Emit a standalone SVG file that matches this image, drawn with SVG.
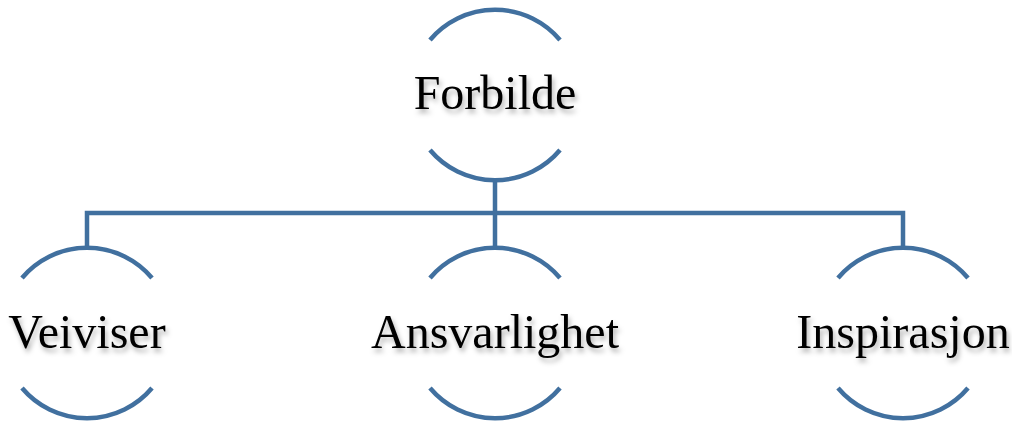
<svg xmlns="http://www.w3.org/2000/svg" width="1012" height="421" viewBox="0 0 1012 421">
<style>
.arc{fill:none;stroke:#41709f;stroke-width:4.5;}
.con{fill:none;stroke:#41709f;stroke-width:4.5;}
.lbl{font-family:"Liberation Serif","Times New Roman",serif;font-size:48px;fill:#000;text-anchor:middle;filter:url(#sh);}
</style>
<defs>
<filter id="sh" x="-10%" y="-30%" width="120%" height="170%">
<feDropShadow dx="2" dy="4" stdDeviation="2.5" flood-color="#000" flood-opacity="0.3"/>
</filter>
</defs>
<g id="connectors">
<path class="con" d="M495 180 V213 M87 248 V213 H903 V248 M495 213 V248"/>
</g>
<g id="node-forbilde">
<path class="arc" d="M430 40 A85 85 0 0 1 560 40"/>
<path class="arc" d="M430 150 A85 85 0 0 0 560 150"/>
<text class="lbl" x="495" y="109">Forbilde</text>
</g>
<g id="node-veiviser">
<path class="arc" d="M22 278 A85 85 0 0 1 152 278"/>
<path class="arc" d="M22 388 A85 85 0 0 0 152 388"/>
<text class="lbl" x="87" y="348">Veiviser</text>
</g>
<g id="node-ansvarlighet">
<path class="arc" d="M430 278 A85 85 0 0 1 560 278"/>
<path class="arc" d="M430 388 A85 85 0 0 0 560 388"/>
<text class="lbl" x="495" y="348">Ansvarlighet</text>
</g>
<g id="node-inspirasjon">
<path class="arc" d="M838 278 A85 85 0 0 1 968 278"/>
<path class="arc" d="M838 388 A85 85 0 0 0 968 388"/>
<text class="lbl" x="903" y="348">Inspirasjon</text>
</g>
</svg>
